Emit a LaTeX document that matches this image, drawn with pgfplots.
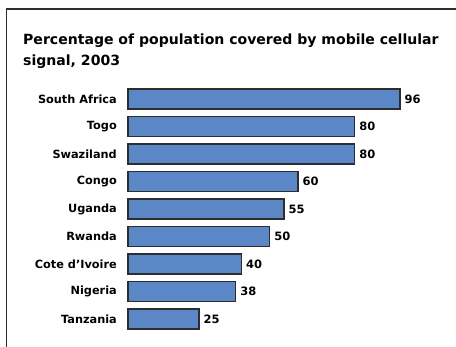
\documentclass[border=0pt]{standalone}
\usepackage{fontspec}
\setmainfont{DejaVu Sans}
\usepackage{pgfplots}
\pgfplotsset{compat=1.18}
\definecolor{barblue}{RGB}{92,135,198}
\definecolor{edgegray}{RGB}{45,45,45}
\begin{document}
\begin{tikzpicture}
\useasboundingbox (0,0) rectangle (456pt,347pt);
\draw[edgegray, line width=1.3pt] (6.5pt,0) -- (6.5pt,338pt) -- (456pt,338pt);
\node[anchor=base west, inner sep=0, font=\fontsize{14.05}{17}\selectfont\bfseries] at (23pt,302pt) {Percentage of population covered by mobile cellular};
\node[anchor=base west, inner sep=0, font=\fontsize{14.05}{17}\selectfont\bfseries] at (23pt,281pt) {signal, 2003};
\begin{axis}[
  at={(128pt,14.25pt)}, anchor=south west,
  scale only axis,
  width=283.33pt, height=247.5pt,
  xmin=0, xmax=100, ymin=-0.5, ymax=8.5,
  xbar, bar width=20pt,
  axis line style={draw=none},
  major tick length=0pt,
  xtick=\empty,
  ytick={0,...,8},
  yticklabels={Tanzania,Nigeria,Cote d'Ivoire,Rwanda,Uganda,Congo,Swaziland,Togo,South Africa},
  yticklabel style={font=\fontsize{11.3}{13}\selectfont\bfseries, anchor=east, inner sep=0pt, xshift=-11pt},
  /pgf/number format/assume math mode=true,
  nodes near coords,
  nodes near coords style={font=\fontsize{11.5}{13}\selectfont\bfseries, anchor=west, inner sep=0pt, xshift=4pt},
  clip=false,
]
\addplot[fill=barblue, draw=edgegray, line width=1.4pt] coordinates {
(25,0) (38,1) (40,2) (50,3) (55,4) (60,5) (80,6) (80,7) (96,8)
};
\end{axis}
\end{tikzpicture}
\end{document}
